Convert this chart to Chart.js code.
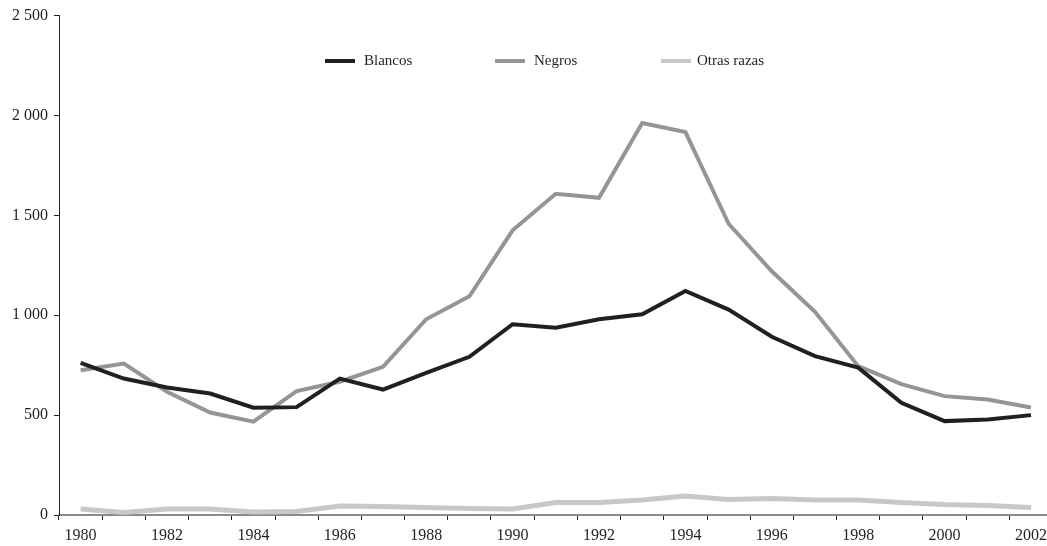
<!DOCTYPE html>
<html>
<head>
<meta charset="utf-8">
<script src="https://cdn.jsdelivr.net/npm/chart.js@4"></script>
<style>
  html, body { margin: 0; padding: 0; background: #fff; overflow: hidden; }
  canvas { display: block; }
</style>
</head>
<body>
<canvas id="myChart" width="1053" height="546"></canvas>
<script>
// years on the x axis
const years = ['1980','1981','1982','1983','1984','1985','1986','1987','1988','1989','1990','1991',
               '1992','1993','1994','1995','1996','1997','1998','1999','2000','2001','2002'];
const xTickLabels = ['1980','1982','1984','1986','1988','1990','1992','1994','1996','1998','2000','2002'];
const yTickValues = [0, 500, 1000, 1500, 2000, 2500];

const blancos = [761, 683, 638, 608, 537, 540, 683, 628, 712, 792, 955, 938,
                 980, 1005, 1122, 1028, 892, 795, 738, 562, 470, 478, 500];
const negros  = [725, 758, 617, 513, 467, 620, 667, 742, 980, 1095, 1425, 1608,
                 1588, 1962, 1917, 1458, 1220, 1017, 745, 655, 595, 578, 538];
const otras   = [30, 13, 30, 30, 15, 18, 45, 42, 37, 32, 30, 63,
                 63, 75, 95, 78, 83, 75, 75, 62, 52, 47, 37];

const serif = '"Liberation Serif", "DejaVu Serif", serif';

// legend drawn inside the plot, like the original
const legendPlugin = {
    id: 'inlineLegend',
    afterDraw(chart) {
        const c = chart.ctx;
        const items = [
            { x: 325, text: 'Blancos', ds: 0 },
            { x: 495, text: 'Negros', ds: 1 },
            { x: 661, text: 'Otras razas', ds: 2 }
        ];
        c.save();
        c.font = '15px ' + serif;
        c.textBaseline = 'middle';
        c.fillStyle = '#231f20';
        items.forEach(it => {
            c.strokeStyle = chart.data.datasets[it.ds].borderColor;
            c.lineWidth = 4;
            c.beginPath();
            c.moveTo(it.x, 61);
            c.lineTo(it.x + 30, 61);
            c.stroke();
            c.fillText(it.text, it.x + (it.ds === 2 ? 36 : 39), 61);
        });
        c.restore();
    }
};

const ctx = document.getElementById('myChart').getContext('2d');
const myChart = new Chart(ctx, {
    type: 'line',
    data: {
        labels: years,
        datasets: [
            { label: 'Blancos', data: blancos, borderColor: '#231f20', borderWidth: 4 },
            { label: 'Negros', data: negros, borderColor: '#939598', borderWidth: 4 },
            { label: 'Otras razas', data: otras, borderColor: '#c7c8ca', borderWidth: 5 }
        ]
    },
    options: {
        responsive: false,
        animation: false,
        layout: { padding: { top: 15, right: 0, left: 0, bottom: 0 } },
        elements: {
            point: { radius: 0 },
            line: { tension: 0, fill: false }
        },
        plugins: {
            legend: { display: false },
            tooltip: { enabled: false }
        },
        scales: {
            x: {
                offset: true,
                grid: { offset: true, drawOnChartArea: false, drawTicks: true, tickLength: 5, color: '#231f20' },
                border: { display: true, color: '#8a8a8a', width: 2 },
                ticks: {
                    autoSkip: false,
                    maxRotation: 0,
                    padding: 6,
                    color: '#231f20',
                    font: { family: serif, size: 16 },
                    callback: function (v, i) {
                        const lab = this.getLabelForValue(v);
                        return xTickLabels.includes(lab) ? lab : '';
                    }
                },
                afterFit(scale) { scale.height = 31; }
            },
            y: {
                min: 0,
                max: 2500,
                grid: { drawOnChartArea: false, drawTicks: true, tickLength: 5, color: '#231f20' },
                border: { display: true, color: '#231f20', width: 1 },
                afterBuildTicks(scale) { scale.ticks = yTickValues.map(v => ({ value: v })); },
                ticks: {
                    padding: 6,
                    color: '#231f20',
                    font: { family: serif, size: 16 },
                    callback: v => String(v).replace(/\B(?=(\d{3})+(?!\d))/g, ' ')
                },
                afterFit(scale) { scale.width = 59; }
            }
        }
    },
    plugins: [legendPlugin]
});
</script>
</body>
</html>
